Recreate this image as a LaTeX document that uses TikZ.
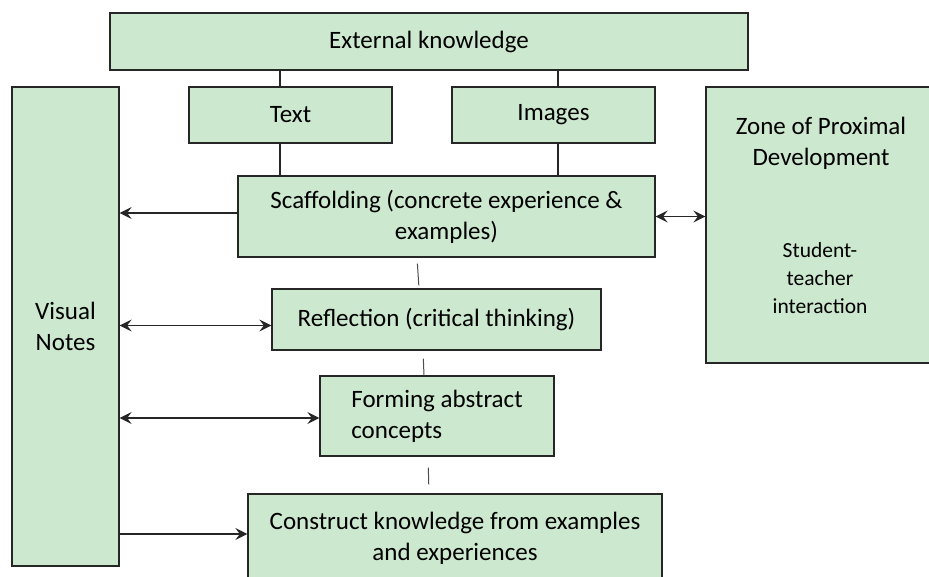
\documentclass[tikz,border=0pt]{standalone}
\usepackage{fontspec}
\setmainfont{Carlito}
\usepackage{tikz}
\usetikzlibrary{arrows.meta}
\definecolor{notegreen}{RGB}{204,232,207}

\begin{document}
\begin{tikzpicture}
    [ x=1pt, y=-1pt,
      font=\fontsize{25}{31}\selectfont,
      stage/.style={draw=black!85, line width=1.3pt, fill=notegreen,
                    align=center, inner sep=0pt},
      link/.style={draw=black!85, line width=1.3pt},
      gap/.style={draw=black!70, line width=1pt},
      >={Stealth[length=12pt,width=12pt,inset=4.5pt]},
    ]
    \useasboundingbox (0,0) rectangle (929,577);
    \fill[white] (0,0) rectangle (929,577);

    \node[stage, minimum width=638pt, minimum height=57pt] (ek) at (429,41.5) {External knowledge};
    \node[stage, minimum width=203pt, minimum height=56pt] (text) at (290.5,115) {Text};
    \node[stage, minimum width=203pt, minimum height=56pt] (img) at (553.5,115) {Images};
    \node[stage, minimum width=417pt, minimum height=81pt] (scaf) at (446.5,216.5)
        {Scaffolding (concrete experience \&\\examples)};
    \node[stage, minimum width=107pt, minimum height=479pt] (vn) at (65.5,326.5) {Visual\\Notes};
    \node[stage, minimum width=232pt, minimum height=276pt] (zpd) at (822,225) {};
    \node[align=center] (zpdtitle) at (821,143.5) {Zone of Proximal\\Development};
    \node[font=\fontsize{21.5}{28}\selectfont, align=center] (zpdnote) at (820,278)
        {Student-\\teacher\\interaction};
    \node[stage, minimum width=329pt, minimum height=61pt] (refl) at (436.5,319.5)
        {Reflection (critical thinking)};
    \node[stage, minimum width=234pt, minimum height=80pt, align=left] (form) at (437,416)
        {Forming abstract\\concepts};
    \node[stage, minimum width=414pt, minimum height=88pt] (cons) at (455,538)
        {Construct knowledge from examples\\and experiences};

    % feeds from external knowledge
    \foreach \n/\dx in {text/-10.5, img/4.5} {
        \coordinate (top) at ([xshift=\dx pt]\n.north);
        \coordinate (bot) at ([xshift=\dx pt]\n.south);
        \draw[link] (top) -- (top |- ek.south);
        \draw[link] (bot) -- (bot |- scaf.north);
    }

    % steps down the middle
    \draw[gap, shorten <=6pt, shorten >=3pt] ([xshift=-29.5pt]scaf.south) -- ([xshift=-17.5pt]refl.north);
    \draw[gap, shorten <=8pt] ([xshift=-13.5pt]refl.south) -- ([xshift=-13pt]form.north);
    \draw[gap, shorten <=11pt, shorten >=9pt] ([xshift=-9pt]form.south) -- ([xshift=-26pt]cons.north);

    % arrows to and from the visual notes
    \coordinate (scafout) at ([yshift=3.5pt]scaf.west);
    \coordinate (reflin) at ([yshift=-6pt]refl.west);
    \coordinate (formin) at ([yshift=-2pt]form.west);
    \coordinate (consin) at ([yshift=4pt]cons.west);
    \draw[link, ->] (scafout) -- (scafout -| vn.east);
    \draw[link, <->] (vn.east |- reflin) -- (reflin);
    \draw[link, <->] (vn.east |- formin) -- (formin);
    \draw[link, ->] (vn.east |- consin) -- (consin);
    \draw[link, <->] (scaf.east) -- (scaf.east -| zpd.west);
\end{tikzpicture}
\end{document}
